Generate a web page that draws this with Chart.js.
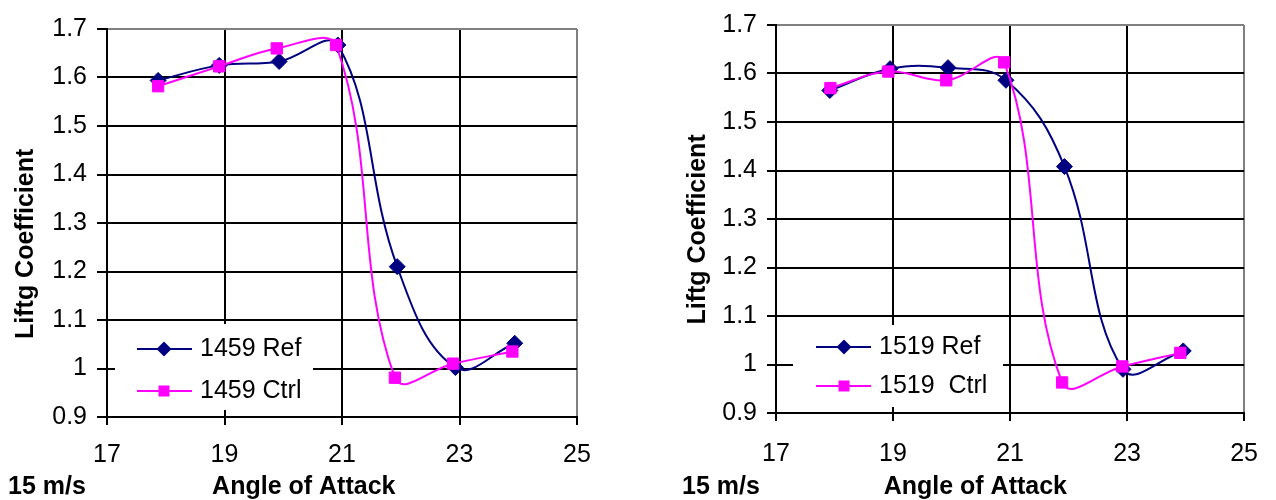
<!DOCTYPE html>
<html>
<head>
<meta charset="utf-8">
<script src="https://cdn.jsdelivr.net/npm/chart.js@4/dist/chart.umd.min.js"></script>
<style>
html,body{margin:0;padding:0;background:#fff;width:1276px;height:500px;overflow:hidden}
#c1{position:absolute;left:0;top:0}
#c2{position:absolute;left:640px;top:0}
</style>
</head>
<body>
<canvas id="c1" width="640" height="500"></canvas>
<canvas id="c2" width="636" height="500"></canvas>
<script>
// ---- tick labels ----
const xTicks = [17, 19, 21, 23, 25];
const yTicks = [0.9, 1.0, 1.1, 1.2, 1.3, 1.4, 1.5, 1.6, 1.7];

// ---- chart 1 : 1459 ----
const refAngle1459  = [17.87, 18.91, 19.93, 20.93, 21.94, 22.93, 23.94];
const ref1459       = [1.594, 1.625, 1.633, 1.667, 1.210, 1.002, 1.052];
const ctrlAngle1459 = [17.87, 18.91, 19.89, 20.90, 21.90, 22.89, 23.90];
const ctrl1459      = [1.582, 1.623, 1.660, 1.667, 0.981, 1.010, 1.035];

// ---- chart 2 : 1519 ----
const refAngle1519  = [17.92, 18.95, 19.94, 20.93, 21.93, 22.93, 23.96];
const ref1519       = [1.565, 1.610, 1.612, 1.586, 1.408, 0.990, 1.028];
const ctrlAngle1519 = [17.93, 18.92, 19.91, 20.90, 21.89, 22.92, 23.91];
const ctrl1519      = [1.570, 1.604, 1.586, 1.623, 0.963, 0.996, 1.024];

const seriesLabels1459 = ['1459 Ref', '1459 Ctrl'];
const seriesLabels1519 = ['1519 Ref', '1519  Ctrl'];
const yTitle = 'Liftg Coefficient';
const xTitle = 'Angle of Attack';
const speedNote = '15 m/s';

const FONT = "'Liberation Sans', Arial, sans-serif";
const NAVY = '#000080';
const MAGENTA = '#FF00FF';
const GRAY = '#808080';

function pts(xs, ys) { return xs.map((x, i) => ({ x: x, y: ys[i] })); }

function drawMarker(ctx, style, x, y, r, color) {
  ctx.save();
  ctx.fillStyle = color;
  ctx.beginPath();
  if (style === 'diamond') {
    ctx.moveTo(x - r, y); ctx.lineTo(x, y - r); ctx.lineTo(x + r, y); ctx.lineTo(x, y + r);
  } else {
    ctx.rect(x - r, y - r, 2 * r, 2 * r);
  }
  ctx.closePath();
  ctx.fill();
  ctx.restore();
}

const boxLegend = {
  id: 'boxLegend',
  beforeDatasetsDraw(chart, args, o) {
    const ctx = chart.ctx;
    ctx.save();
    ctx.fillStyle = '#fff';
    ctx.fillRect(o.box[0], o.box[1], o.box[2] - o.box[0], o.box[3] - o.box[1]);
    ctx.restore();
  },
  afterDraw(chart, args, o) {
    const ctx = chart.ctx;
    ctx.save();
    chart.data.datasets.forEach((ds, i) => {
      const y = o.rows[i];
      ctx.strokeStyle = ds.borderColor;
      ctx.lineWidth = 2;
      ctx.beginPath();
      ctx.moveTo(o.lineX[0], y);
      ctx.lineTo(o.lineX[1], y);
      ctx.stroke();
      drawMarker(ctx, i === 0 ? 'diamond' : 'square', o.markX, y, i === 0 ? 7.5 : 5.5, ds.borderColor);
      ctx.fillStyle = '#000';
      ctx.font = '25px ' + FONT;
      ctx.textAlign = 'left';
      ctx.textBaseline = 'middle';
      ctx.fillText(ds.label, o.textX, y);
    });
    ctx.font = 'bold 25px ' + FONT;
    ctx.textAlign = 'left';
    ctx.textBaseline = 'middle';
    ctx.fillStyle = '#000';
    ctx.fillText(o.note, o.noteX, o.noteY);
    ctx.restore();
  }
};

function makeChart(id, labels, refX, refY, ctrlX, ctrlY, geo) {
  const NB = '\u00A0';
  return new Chart(document.getElementById(id), {
    type: 'scatter',
    data: {
      datasets: [
        {
          label: labels[0], data: pts(refX, refY), showLine: true, tension: 0.4,
          borderColor: NAVY, backgroundColor: NAVY, borderWidth: 2,
          pointStyle: 'rectRot', pointRadius: 8, pointBorderWidth: 1,
          pointBackgroundColor: NAVY, pointBorderColor: NAVY, order: 1
        },
        {
          label: labels[1], data: pts(ctrlX, ctrlY), showLine: true, tension: 0.4,
          borderColor: MAGENTA, backgroundColor: MAGENTA, borderWidth: 2,
          pointStyle: 'rect', pointRadius: 8, pointBorderWidth: 1,
          pointBackgroundColor: MAGENTA, pointBorderColor: MAGENTA, order: 0
        }
      ]
    },
    options: {
      responsive: false,
      animation: false,
      devicePixelRatio: 1,
      events: [],
      layout: { padding: { left: 0, right: geo.padRight, top: geo.top, bottom: 0 } },
      plugins: {
        legend: { display: false },
        tooltip: { enabled: false },
        boxLegend: geo.legend
      },
      scales: {
        x: {
          type: 'linear', min: 17, max: 25,
          afterBuildTicks: s => { s.ticks = xTicks.map(v => ({ value: v })); },
          afterFit: s => { s.height = geo.xAxisH; },
          ticks: { color: '#000', font: { family: FONT, size: 25 }, padding: geo.xTickPad, maxRotation: 0, autoSkip: false },
          grid: {
            color: c => (c.tick && c.tick.value === 25) ? GRAY : '#000',
            lineWidth: 2, tickLength: 8, tickColor: '#000', tickWidth: 2, drawTicks: true
          },
          border: { display: true, color: '#000', width: 2 },
          title: {
            display: true, text: xTitle + NB.repeat(geo.xTitleSp), color: '#000',
            font: { family: FONT, size: 25, weight: 'bold' }, padding: { top: 0, bottom: -2 }
          }
        },
        y: {
          type: 'linear', min: 0.9, max: 1.7,
          afterBuildTicks: s => { s.ticks = yTicks.map(v => ({ value: v })); },
          afterFit: s => { s.width = geo.yAxisW; },
          ticks: { color: '#000', font: { family: FONT, size: 25 }, padding: 10, callback: v => String(Number(v.toFixed(1))) },
          grid: {
            color: c => (c.tick && Math.abs(c.tick.value - 1.7) < 1e-6) ? GRAY : '#000',
            lineWidth: 2, tickLength: geo.yTickLen, tickColor: '#000', tickWidth: 2, drawTicks: true
          },
          border: { display: true, color: '#000', width: 2 },
          title: {
            display: true, text: yTitle + NB.repeat(geo.yTitleSp), color: '#000',
            font: { family: FONT, size: 25, weight: 'bold' }, padding: { top: geo.yTitlePad, bottom: 0 }
          }
        }
      }
    },
    plugins: [boxLegend]
  });
}

makeChart('c1', seriesLabels1459, refAngle1459, ref1459, ctrlAngle1459, ctrl1459, {
  padRight: 63, top: 29, xAxisH: 83, yAxisW: 107, xTickPad: 15, yTickLen: 10,
  xTitleSp: 11, yTitleSp: 6, yTitlePad: 11,
  legend: { box: [115, 324, 313, 410], rows: [349, 391], lineX: [137, 192], markX: 164, textX: 200,
            note: speedNote, noteX: 8, noteY: 487 }
});

makeChart('c2', seriesLabels1519, refAngle1519, ref1519, ctrlAngle1519, ctrl1519, {
  padRight: 16, top: 19, xAxisH: 87, yAxisW: 136, xTickPad: 18, yTickLen: 9,
  xTitleSp: 10, yTitleSp: 3, yTitlePad: 43,
  legend: { box: [153, 325, 363, 407], rows: [347, 386], lineX: [176, 231], markX: 204, textX: 239,
            note: speedNote, noteX: 42, noteY: 487 }
});
</script>
</body>
</html>
